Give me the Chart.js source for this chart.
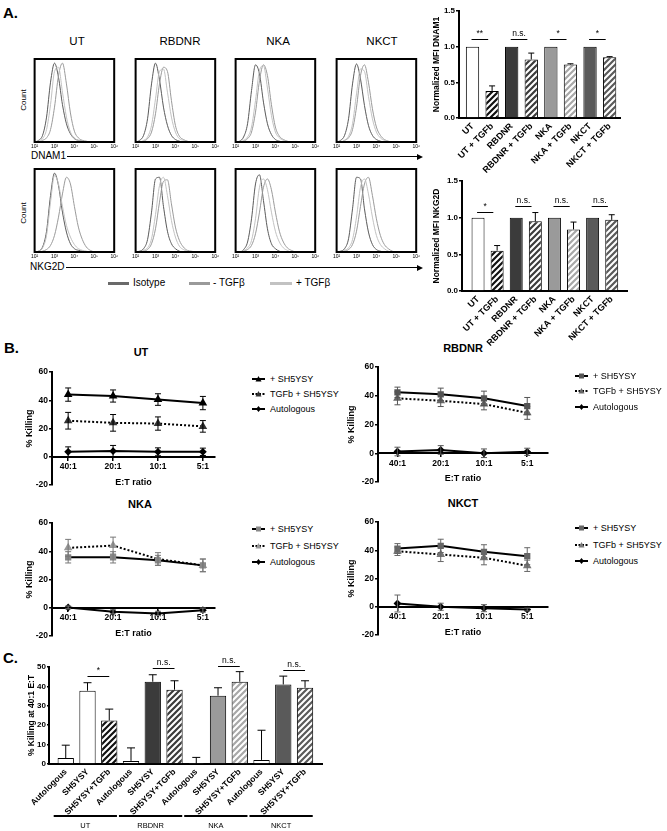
<!DOCTYPE html>
<html>
<head>
<meta charset="utf-8">
<title>NK cells and TGFb</title>
<script src="https://cdn.jsdelivr.net/npm/chart.js@4.4.1/dist/chart.umd.min.js"></script>
<style>
  html, body { margin: 0; padding: 0; background: #fff; }
  #page { position: relative; width: 667px; height: 831px; overflow: hidden;
          font-family: "Liberation Sans", Arial, sans-serif; color: #000; }
  .t { position: absolute; white-space: nowrap; line-height: 1; }
  .c { transform: translate(-50%, -50%); }
  .l { transform: translateY(-50%); }
  .rot { transform: translate(-50%, -50%) rotate(-90deg); }
  .b { font-weight: bold; }
  .bar { position: absolute; }
  canvas { position: absolute; }
</style>
</head>
<body>
<div id="page">
  <div class="t l b" style="left:3px;top:12px;font-size:15px">A.</div>
  <div class="t rot" style="left:24px;top:100px;font-size:8px">Count</div>
  <div class="t rot" style="left:24px;top:213px;font-size:8px">Count</div>
  <div class="t l" style="left:31px;top:156px;font-size:10px">DNAM1</div>
  <div class="bar" style="left:67px;top:156px;width:352px;height:1px;background:#000"></div>
  <div class="bar" style="left:417px;top:153.5px;border-left:6px solid #000;border-top:3px solid transparent;border-bottom:3px solid transparent"></div>
  <div class="t l" style="left:30px;top:267px;font-size:10px">NKG2D</div>
  <div class="bar" style="left:66px;top:267px;width:353px;height:1px;background:#000"></div>
  <div class="bar" style="left:417px;top:264.5px;border-left:6px solid #000;border-top:3px solid transparent;border-bottom:3px solid transparent"></div>

  <div class="bar" style="left:108px;top:282px;width:21px;height:3px;background:#6a6a6a"></div>
  <div class="t l" style="left:133px;top:283px;font-size:10px">Isotype</div>
  <div class="bar" style="left:189px;top:282px;width:21px;height:3px;background:#9a9a9a"></div>
  <div class="t l" style="left:213px;top:283px;font-size:10px">- TGFβ</div>
  <div class="bar" style="left:270px;top:282px;width:22px;height:3px;background:#c2c2c2"></div>
  <div class="t l" style="left:296px;top:283px;font-size:10px">+ TGFβ</div>

  <div class="t l b" style="left:4px;top:347px;font-size:15px">B.</div>
  <div class="t c b" style="left:141px;top:352px;font-size:11px">UT</div>
  <div class="t c b" style="left:463px;top:348px;font-size:11px">RBDNR</div>
  <div class="t c b" style="left:140px;top:504px;font-size:11px">NKA</div>
  <div class="t c b" style="left:463px;top:503px;font-size:11px">NKCT</div>

  <div class="t l b" style="left:3px;top:657px;font-size:15px">C.</div>
</div>
<script>
// ---------- data ----------
const histCols = ['UT', 'RBDNR', 'NKA', 'NKCT'];
const histX = [2.0, 2.2, 2.4, 2.6, 2.8, 3.0, 3.2, 3.4, 3.6, 3.8, 4.0, 4.2, 4.4, 4.6, 4.8, 5.0];
const histTicks = ['10²', '10³', '10⁴', '10⁵', '10⁶'];

// DNAM1 histograms (UT, RBDNR, NKA, NKCT), relative count
const dnamIsotype = [
  [0, .02, .08, .30, .72, .95, .78, .45, .22, .10, .04, .02, .01, 0, 0, 0],
  [0, .02, .08, .28, .70, .95, .75, .42, .20, .08, .03, .01, 0, 0, 0, 0],
  [0, .01, .06, .22, .62, .93, .82, .48, .22, .09, .03, .01, 0, 0, 0, 0],
  [0, .02, .08, .28, .70, .94, .76, .44, .20, .08, .03, .01, 0, 0, 0, 0]
];
const dnamMinus = [
  [0, 0, .02, .05, .15, .42, .80, .95, .70, .35, .13, .05, .02, .01, 0, 0],
  [0, 0, .01, .04, .12, .34, .70, .90, .85, .50, .20, .07, .03, .01, 0, 0],
  [0, 0, .01, .04, .12, .36, .74, .93, .80, .45, .18, .07, .03, .01, 0, 0],
  [0, 0, .02, .05, .15, .42, .80, .93, .72, .40, .18, .08, .03, .01, 0, 0]
];
const dnamPlus = [
  [0, .01, .04, .15, .45, .85, .90, .60, .30, .12, .05, .02, .01, 0, 0, 0],
  [0, 0, .02, .06, .20, .52, .85, .88, .60, .30, .12, .04, .02, 0, 0, 0],
  [0, 0, .02, .06, .18, .50, .86, .92, .65, .32, .12, .05, .02, 0, 0, 0],
  [0, 0, .02, .07, .22, .58, .88, .85, .55, .28, .12, .05, .02, 0, 0, 0]
];
// NKG2D histograms
const nkgIsotype = [
  [0, .01, .06, .25, .68, .95, .80, .48, .24, .10, .04, .02, .01, 0, 0, 0],
  [0, .01, .04, .15, .48, .88, .90, .55, .25, .10, .04, .01, 0, 0, 0, 0],
  [0, 0, .03, .12, .40, .82, .93, .62, .28, .10, .04, .01, 0, 0, 0, 0],
  [0, .01, .04, .16, .52, .90, .88, .52, .24, .09, .03, .01, 0, 0, 0, 0]
];
const nkgMinus = [
  [0, 0, .01, .03, .08, .20, .42, .70, .90, .82, .55, .30, .15, .06, .02, 0],
  [0, 0, .01, .03, .10, .28, .60, .85, .87, .58, .30, .14, .06, .02, .01, 0],
  [0, 0, .01, .03, .08, .22, .48, .78, .88, .75, .48, .25, .12, .05, .02, 0],
  [0, 0, .01, .03, .09, .25, .55, .82, .90, .68, .40, .20, .09, .04, .01, 0]
];
const nkgPlus = [
  [0, .01, .05, .20, .60, .92, .82, .55, .32, .18, .09, .04, .02, .01, 0, 0],
  [0, 0, .02, .05, .16, .45, .80, .90, .68, .38, .18, .07, .03, .01, 0, 0],
  [0, 0, .02, .05, .14, .40, .78, .88, .75, .48, .25, .12, .05, .02, 0, 0],
  [0, 0, .02, .05, .15, .42, .78, .88, .70, .42, .20, .09, .04, .01, 0, 0]
];

// normalized MFI bars
const barCats = ['UT', 'UT + TGFb', 'RBDNR', 'RBDNR + TGFb', 'NKA', 'NKA + TGFb', 'NKCT', 'NKCT + TGFb'];
const dnamMfi = [1, 0.38, 1, 0.82, 1, 0.75, 1, 0.85];
const dnamErr = [0, 0.07, 0, 0.09, 0, 0.01, 0, 0.01];
const nkgMfi = [1, 0.55, 1, 0.95, 1, 0.84, 1, 0.97];
const nkgErr = [0, 0.07, 0, 0.12, 0, 0.10, 0, 0.07];
const dnamSig = ['**', 'n.s.', '*', '*'];
const nkgSig = ['*', 'n.s.', 'n.s.', 'n.s.'];

// killing curves
const etLabels = ['40:1', '20:1', '10:1', '5:1'];
const seriesNames = ['+ SH5YSY', 'TGFb + SH5YSY', 'Autologous'];
const utSh = [44, 43, 40.5, 38];
const utShErr = [4.7, 4.3, 4.1, 4.7];
const utTgf = [25.5, 24, 23.5, 21.5];
const utTgfErr = [5.9, 5.9, 4.7, 4.1];
const utAuto = [3.5, 4, 3.5, 3.5];
const utAutoErr = [3.5, 4, 2.8, 2.6];
const rbSh = [42.4, 41, 38.2, 32.8];
const rbShErr = [3.6, 4.3, 5, 6];
const rbTgf = [38.2, 36.5, 34.2, 28.1];
const rbTgfErr = [4.5, 4, 4, 4.5];
const rbAuto = [1.2, 2.3, 0, 1];
const rbAutoErr = [3, 3, 3, 2.5];
const nkaSh = [35.7, 35.7, 33.6, 30];
const nkaShErr = [4, 4, 3.5, 4.5];
const nkaTgf = [42.4, 44, 34.5, 30];
const nkaTgfErr = [6, 6, 4.5, 4.5];
const nkaAuto = [0.2, -2.9, -4, -1.7];
const nkaAutoErr = [1, 1.5, 1.5, 1.5];
const nkctSh = [41.2, 43.1, 38.9, 35.8];
const nkctShErr = [3.5, 4.7, 5, 6];
const nkctTgf = [39.3, 37, 34.7, 29];
const nkctTgfErr = [3, 5, 5, 4];
const nkctAuto = [2.3, 0, -1, -2];
const nkctAutoErr = [6, 2.5, 2.5, 1];

// killing at 40:1
const cGroups = ['UT', 'RBDNR', 'NKA', 'NKCT'];
const cCats = ['Autologous', 'SH5YSY', 'SH5YSY+TGFb', 'Autologous', 'SH5YSY', 'SH5YSY+TGFb',
               'Autologous', 'SH5YSY', 'SH5YSY+TGFb', 'Autologous', 'SH5YSY', 'SH5YSY+TGFb'];
const cKill = [3.1, 37.8, 22.4, 1.6, 42.4, 38.3, 0.2, 35.2, 42.4, 2.1, 41, 39.3];
const cErr = [6.6, 4.1, 5.9, 6.7, 3.6, 4.6, 3.2, 4.1, 5.2, 15.3, 4.3, 3.6];
const cSig = ['*', 'n.s.', 'n.s.', 'n.s.'];

// ---------- setup ----------
const FONT = '"Liberation Sans", Arial, sans-serif';
Chart.defaults.font.family = FONT;
Chart.defaults.color = '#000';
Chart.defaults.animation = false;
Chart.defaults.responsive = false;
Chart.defaults.plugins.legend.display = false;
Chart.defaults.plugins.tooltip.enabled = false;

const page = document.getElementById('page');

function addCanvas(left, top, w, h) {
  const c = document.createElement('canvas');
  c.width = w; c.height = h;
  c.style.cssText = `left:${left}px;top:${top}px;width:${w}px;height:${h}px`;
  page.appendChild(c);
  return c;
}

function hatch(color) {
  const c = document.createElement('canvas');
  c.width = 6; c.height = 6;
  const g = c.getContext('2d');
  g.fillStyle = '#fff';
  g.fillRect(0, 0, 6, 6);
  g.strokeStyle = color;
  g.lineWidth = 2.2;
  g.beginPath();
  g.moveTo(-1, 7); g.lineTo(7, -1);
  g.moveTo(-4, 4); g.lineTo(4, -4);
  g.moveTo(2, 10); g.lineTo(10, 2);
  g.stroke();
  return g.createPattern(c, 'repeat');
}

const boxPlugin = {
  id: 'box',
  afterDraw(chart) {
    const { ctx, chartArea: a } = chart;
    ctx.save();
    ctx.lineWidth = 2;
    ctx.strokeStyle = '#000';
    ctx.strokeRect(a.left, a.top, a.right - a.left, a.bottom - a.top);
    ctx.restore();
  }
};

const errPlugin = {
  id: 'errbars',
  afterDatasetsDraw(chart) {
    const { ctx, scales: { y } } = chart;
    chart.data.datasets.forEach((ds, di) => {
      if (!ds.errors) return;
      const meta = chart.getDatasetMeta(di);
      ctx.save();
      ctx.strokeStyle = ds.errorColor || '#000';
      ctx.lineWidth = 1;
      meta.data.forEach((el, i) => {
        const e = ds.errors[i];
        if (!e) return;
        const v = ds.data[i].y;
        const yTop = y.getPixelForValue(v + e);
        const yBot = ds.errorUpOnly ? el.y : y.getPixelForValue(v - e);
        const w = ds.capWidth || 3;
        ctx.beginPath();
        ctx.moveTo(el.x, yTop); ctx.lineTo(el.x, yBot);
        ctx.moveTo(el.x - w, yTop); ctx.lineTo(el.x + w, yTop);
        if (!ds.errorUpOnly) { ctx.moveTo(el.x - w, yBot); ctx.lineTo(el.x + w, yBot); }
        ctx.stroke();
      });
      ctx.restore();
    });
  }
};

const sigPlugin = {
  id: 'sig',
  afterDraw(chart, args, opts) {
    if (!opts.marks) return;
    const { ctx, scales: { x, y } } = chart;
    ctx.save();
    ctx.strokeStyle = '#000';
    ctx.fillStyle = '#000';
    ctx.lineWidth = 1;
    ctx.font = `${opts.size}px ${FONT}`;
    ctx.textAlign = 'center';
    ctx.textBaseline = 'bottom';
    opts.marks.forEach(m => {
      const x1 = x.getPixelForValue(m.from), x2 = x.getPixelForValue(m.to);
      const yy = Math.round(y.getPixelForValue(m.at)) + 0.5;
      ctx.beginPath(); ctx.moveTo(x1, yy); ctx.lineTo(x2, yy); ctx.stroke();
      ctx.fillText(m.text, (x1 + x2) / 2, yy - 2);
    });
    ctx.restore();
  }
};

const groupPlugin = {
  id: 'groups',
  afterDraw(chart, args, opts) {
    if (!opts.labels) return;
    const { ctx, scales: { x }, chartArea } = chart;
    ctx.save();
    ctx.strokeStyle = '#000';
    ctx.fillStyle = '#000';
    ctx.lineWidth = 2;
    ctx.font = `${opts.size}px ${FONT}`;
    ctx.textAlign = 'center';
    ctx.textBaseline = 'middle';
    opts.labels.forEach((g, k) => {
      const x1 = x.getPixelForValue(k * 3 - 0.6) + 1;
      const x2 = x.getPixelForValue(k * 3 + 2.4) - 1;
      const yl = chartArea.bottom + opts.lineOffset;
      ctx.beginPath(); ctx.moveTo(x1, yl); ctx.lineTo(x2, yl); ctx.stroke();
      ctx.fillText(g, (x1 + x2) / 2, chartArea.bottom + opts.textOffset);
    });
    ctx.restore();
  }
};

// ---------- panel A: histograms ----------
const histLefts = [33, 134, 234, 335];
const histTitleX = [77, 180, 278, 382];

function histChart(left, top, iso, minus, plus) {
  const c = addCanvas(left - 4, top - 2, 91, 97);
  const line = (vals, color) => ({
    data: histX.map((x, i) => ({ x, y: vals[i] })),
    borderColor: color, borderWidth: 1, pointRadius: 0,
    cubicInterpolationMode: 'monotone', fill: false
  });
  return new Chart(c, {
    type: 'line',
    data: { datasets: [line(plus, '#c2c2c2'), line(minus, '#9a9a9a'), line(iso, '#5a5a5a')] },
    options: {
      layout: { padding: { top: 2, left: 4, right: 4, bottom: 0 } },
      scales: {
        x: {
          type: 'linear', min: 2, max: 6,
          afterBuildTicks: s => { s.ticks = histTicks.map((_, i) => ({ value: i + 2 })); },
          afterFit: s => { s.height = 12; },
          ticks: { callback: v => histTicks[v - 2], font: { size: 5 }, padding: 2, maxRotation: 0, autoSkip: false },
          grid: { display: false, drawTicks: false }, border: { display: false }
        },
        y: { display: false, min: 0, max: 1 }
      }
    },
    plugins: [boxPlugin]
  });
}

histCols.forEach((col, k) => {
  const d = document.createElement('div');
  d.className = 't c';
  d.style.cssText = `left:${histTitleX[k]}px;top:42px;font-size:11.5px`;
  d.textContent = col;
  page.appendChild(d);
  histChart(histLefts[k], 59, dnamIsotype[k], dnamMinus[k], dnamPlus[k]);
  histChart(histLefts[k], 169, nkgIsotype[k], nkgMinus[k], nkgPlus[k]);
});

// ---------- panel A: MFI bars ----------
const mfiFill = ['#ffffff', hatch('#111'), '#3b3b3b', hatch('#3b3b3b'),
                 '#9a9a9a', hatch('#a8a8a8'), '#5a5a5a', hatch('#5a5a5a')];

function mfiChart(box, vals, errs, sig, sigAt, yTitle) {
  const c = addCanvas(box.left, box.top, box.w, box.h);
  return new Chart(c, {
    type: 'bar',
    data: {
      datasets: [{
        data: vals.map((v, i) => ({ x: i, y: v })),
        backgroundColor: mfiFill, borderColor: '#000', borderWidth: 1,
        barPercentage: 0.68, categoryPercentage: 1,
        errors: errs, errorUpOnly: true, capWidth: 3
      }]
    },
    options: {
      layout: { padding: { top: box.padTop, right: box.padRight, left: 0, bottom: 0 } },
      plugins: {
        sig: { size: 8.5, marks: sig.map((t, k) => ({ from: 2 * k - 0.05, to: 2 * k + 0.8, at: sigAt[k], text: t })) }
      },
      scales: {
        x: {
          type: 'linear', min: box.xMin, max: box.xMax, offset: false,
          afterBuildTicks: s => { s.ticks = barCats.map((_, i) => ({ value: i })); },
          afterFit: s => { s.height = box.xH; },
          ticks: { callback: v => barCats[v], autoSkip: false, minRotation: 45, maxRotation: 45,
                   font: { size: 9, weight: 'bold' }, padding: 3 },
          grid: { display: false, drawTicks: false }, border: { color: '#000', width: 2 }
        },
        y: {
          min: 0, max: 1.5,
          afterFit: s => { s.width = box.yW; },
          ticks: { stepSize: 0.5, callback: v => v.toFixed(1), font: { size: 8, weight: 'bold' }, padding: 1 },
          title: { display: true, text: yTitle, font: { size: 8.5, weight: 'bold' }, padding: box.titlePad },
          grid: { drawOnChartArea: false, tickLength: 3, color: '#000', lineWidth: 1.5 },
          border: { color: '#000', width: 2 }
        }
      }
    },
    plugins: [errPlugin, sigPlugin]
  });
}

mfiChart({ left: 428, top: 0, w: 200, h: 180, padTop: 11, padRight: 8, xH: 62, yW: 31,
           xMin: -0.69, xMax: 7.53, titlePad: 4 },
         dnamMfi, dnamErr, dnamSig, [1.11, 1.11, 1.11, 1.11], 'Normalized MFI DNAM1');
mfiChart({ left: 431, top: 172, w: 200, h: 178, padTop: 9, padRight: 4, xH: 59, yW: 31,
           xMin: -0.84, xMax: 7.8, titlePad: 1 },
         nkgMfi, nkgErr, nkgSig, [1.08, 1.16, 1.16, 1.16], 'Normalized MFI NKG2D');

// ---------- panel B: killing curves ----------
function legendRow(x, y, w, dashed, marker, color, text) {
  const ns = 'http://www.w3.org/2000/svg';
  const svg = document.createElementNS(ns, 'svg');
  svg.setAttribute('width', w);
  svg.setAttribute('height', 8);
  svg.style.cssText = `position:absolute;left:${x}px;top:${y - 4}px`;
  const cx = w / 2;
  let m = '';
  if (marker === 'triangle') m = `<polygon points="${cx - 3},6.5 ${cx + 3},6.5 ${cx},1" fill="${color}"/>`;
  else if (marker === 'rect') m = `<rect x="${cx - 2.5}" y="1.5" width="5" height="5" fill="${color}"/>`;
  else m = `<polygon points="${cx},1 ${cx + 2.5},4 ${cx},7 ${cx - 2.5},4" fill="${color}"/>`;
  svg.innerHTML = `<line x1="0" y1="4" x2="${w}" y2="4" stroke="#000" stroke-width="2"${dashed ? ' stroke-dasharray="2,1.5"' : ''}/>` + m;
  page.appendChild(svg);
  const d = document.createElement('div');
  d.className = 't l';
  d.style.cssText = `left:${x + w + 5}px;top:${y}px;font-size:9px`;
  d.textContent = text;
  page.appendChild(d);
}

function killChart(box, sets, look) {
  const c = addCanvas(box.left, box.top, box.w, box.h);
  const ds = (vals, errs, dashed, style, color, radius) => ({
    data: etLabels.map((_, i) => ({ x: i, y: vals[i] })),
    borderColor: '#000', borderWidth: 2, borderDash: dashed ? [2, 2] : [],
    pointStyle: style, pointRadius: radius, pointBackgroundColor: color, pointBorderColor: color,
    errors: errs, errorColor: look.err, capWidth: 3, fill: false, tension: 0
  });
  new Chart(c, {
    type: 'line',
    data: {
      datasets: [
        ds(sets[0], sets[1], false, look.shStyle, look.sh, 3),
        ds(sets[2], sets[3], true, 'triangle', look.tgf, 3),
        ds(sets[4], sets[5], false, 'rectRot', '#000', 2.5)
      ]
    },
    options: {
      layout: { padding: { top: 27, bottom: 10, right: 10, left: 0 } },
      scales: {
        x: {
          type: 'linear', min: box.xMin, max: box.xMax, position: { y: 0 },
          afterBuildTicks: s => { s.ticks = etLabels.map((_, i) => ({ value: i })); },
          ticks: { callback: v => etLabels[v], autoSkip: false, maxRotation: 0,
                   font: { size: 8.5, weight: 'bold' }, padding: 2 },
          title: { display: true, text: 'E:T ratio', font: { size: 9, weight: 'bold' }, padding: { top: 3, bottom: 0 } },
          grid: { drawOnChartArea: false, tickLength: 3, color: '#000', lineWidth: 1.5 },
          border: { color: '#000', width: 2 }
        },
        y: {
          min: -20, max: 60,
          afterFit: s => { s.width = box.yW; },
          ticks: { stepSize: 20, font: { size: 8.5, weight: 'bold' }, padding: 1 },
          title: { display: true, text: '% Killing', font: { size: 9, weight: 'bold' }, padding: 4 },
          grid: { drawOnChartArea: false, tickLength: 3, color: '#000', lineWidth: 1.5 },
          border: { color: '#000', width: 2 }
        }
      }
    },
    plugins: [errPlugin]
  });
  const styles = [[false, look.shStyle === 'rectRot' ? 'rect' : look.shStyle, look.sh],
                  [true, 'triangle', look.tgf], [false, 'diamond', '#000']];
  seriesNames.forEach((name, i) => {
    legendRow(box.legX, box.legY[i], box.legW, styles[i][0], styles[i][1], styles[i][2], name);
  });
}

killChart({ left: 20, top: 345, w: 205, h: 150, yW: 32, xMin: -0.36, xMax: 3.27,
            legX: 252, legW: 13, legY: [379, 394, 409] },
          [utSh, utShErr, utTgf, utTgfErr, utAuto, utAutoErr],
          { sh: '#000', tgf: '#333', err: '#000', shStyle: 'triangle' });
killChart({ left: 342, top: 340, w: 216, h: 152, yW: 36, xMin: -0.45, xMax: 3.48,
            legX: 575, legW: 13, legY: [376, 391, 407] },
          [rbSh, rbShErr, rbTgf, rbTgfErr, rbAuto, rbAutoErr],
          { sh: '#555', tgf: '#666', err: '#555', shStyle: 'rect' });
killChart({ left: 20, top: 496, w: 205, h: 150, yW: 32, xMin: -0.36, xMax: 3.27,
            legX: 252, legW: 13, legY: [529, 546, 562] },
          [nkaSh, nkaShErr, nkaTgf, nkaTgfErr, nkaAuto, nkaAutoErr],
          { sh: '#888', tgf: '#999', err: '#777', shStyle: 'rect' });
killChart({ left: 342, top: 495, w: 216, h: 150, yW: 36, xMin: -0.45, xMax: 3.48,
            legX: 575, legW: 13, legY: [528, 545, 561] },
          [nkctSh, nkctShErr, nkctTgf, nkctTgfErr, nkctAuto, nkctAutoErr],
          { sh: '#666', tgf: '#777', err: '#666', shStyle: 'rect' });

// ---------- panel C: killing at 40:1 ----------
const cFill = ['#ffffff', '#ffffff', hatch('#111'),
               '#ffffff', '#3b3b3b', hatch('#3b3b3b'),
               '#ffffff', '#9a9a9a', hatch('#a8a8a8'),
               '#ffffff', '#5a5a5a', hatch('#5a5a5a')];

new Chart(addCanvas(23, 655, 309, 176), {
  type: 'bar',
  data: {
    datasets: [{
      data: cKill.map((v, i) => ({ x: i, y: v })),
      backgroundColor: cFill, borderColor: '#000', borderWidth: 1,
      barPercentage: 0.75, categoryPercentage: 1,
      errors: cErr, errorUpOnly: true, capWidth: 4
    }]
  },
  options: {
    layout: { padding: { top: 12, right: 10, left: 0, bottom: 0 } },
    plugins: {
      sig: { size: 8.5, marks: cSig.map((t, k) => ({ from: 3 * k + 1, to: 3 * k + 2, at: [45.4, 49.5, 50.5, 48.5][k], text: t })) },
      groups: { labels: cGroups, size: 7.5, lineOffset: 52, textOffset: 62 }
    },
    scales: {
      x: {
        type: 'linear', min: -0.77, max: 11.78, offset: false,
        afterBuildTicks: s => { s.ticks = cCats.map((_, i) => ({ value: i })); },
        afterFit: s => { s.height = 67; },
        ticks: { callback: v => cCats[v], autoSkip: false, minRotation: 45, maxRotation: 45,
                 font: { size: 8.5, weight: 'bold' }, padding: 3 },
        grid: { display: false, drawTicks: false }, border: { color: '#000', width: 2 }
      },
      y: {
        min: 0, max: 50,
        afterFit: s => { s.width = 26; },
        ticks: { stepSize: 10, font: { size: 8, weight: 'bold' }, padding: 1 },
        title: { display: true, text: '% Killing at 40:1 E:T', font: { size: 8.5, weight: 'bold' }, padding: 4 },
        grid: { drawOnChartArea: false, tickLength: 2, color: '#000', lineWidth: 1.5 },
        border: { color: '#000', width: 2 }
      }
    }
  },
  plugins: [errPlugin, sigPlugin, groupPlugin]
});
</script>
</body>
</html>
